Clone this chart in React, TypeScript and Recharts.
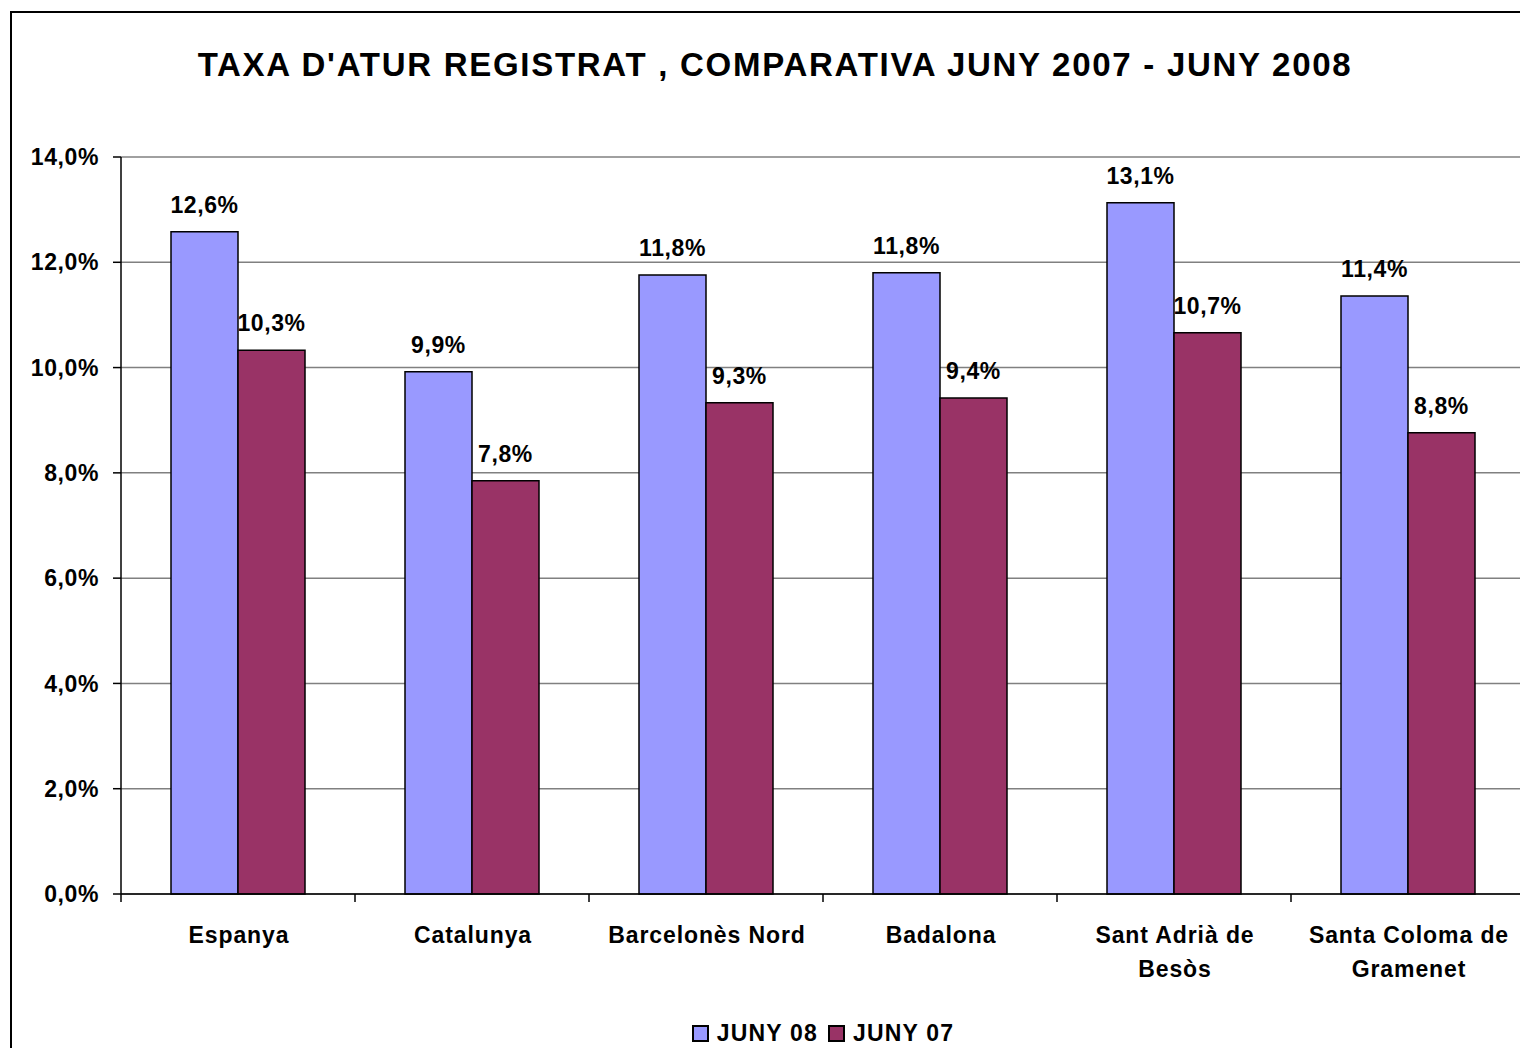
import React from "react";
import {
  BarChart,
  Bar,
  XAxis,
  YAxis,
  CartesianGrid,
  LabelList,
} from "recharts";

const TITLE = "TAXA D'ATUR REGISTRAT , COMPARATIVA JUNY 2007 - JUNY 2008";
const categories = [
  "Espanya",
  "Catalunya",
  "Barcelonès Nord",
  "Badalona",
  "Sant Adrià de Besòs",
  "Santa Coloma de Gramenet",
];
const juny08 = [12.58, 9.92, 11.76, 11.8, 13.13, 11.36];
const juny07 = [10.33, 7.85, 9.33, 9.42, 10.66, 8.76];
const seriesNames = ["JUNY 08", "JUNY 07"];
const seriesColors = ["#9999FF", "#993366"];
const yTicks = [0, 2, 4, 6, 8, 10, 12, 14];

const data = categories.map((c, i) => ({
  name: c,
  j08: juny08[i],
  j07: juny07[i],
}));

const FONT = "'Liberation Sans', Arial, Helvetica, sans-serif";

const fmtPct = (v: number) => `${Number(v).toFixed(1).replace(".", ",")}%`;

const splitLabel = (s: string): string[] => {
  if (s.length <= 16) return [s];
  const words = s.split(" ");
  const last = words.pop() as string;
  return [words.join(" "), last];
};

const CategoryTick = (props: any) => {
  const { x, y, payload } = props;
  const lines = splitLabel(String(payload.value));
  const half = Number(payload.offset) || 0;
  return (
    <g>
      <line
        x1={x - half}
        x2={x - half}
        y1={y}
        y2={y + 8}
        stroke="#000"
        strokeWidth={1.5}
      />
      <text
        x={x}
        y={y}
        textAnchor="middle"
        fontFamily={FONT}
        fontWeight="bold"
        fontSize={23}
        letterSpacing={0.9}
        fill="#000"
      >
        {lines.map((l, i) => (
          <tspan key={i} x={x + 1} y={y + 49 + i * 33.5}>
            {l}
          </tspan>
        ))}
      </text>
    </g>
  );
};

const labelStyle = {
  fill: "#000",
  fontSize: 23,
  fontWeight: "bold",
  fontFamily: FONT,
  letterSpacing: 0.6,
};

export default function App() {
  return (
    <div
      style={{
        position: "absolute",
        left: 0,
        top: 0,
        width: 1520,
        height: 1048,
        overflow: "hidden",
        background: "#fff",
        fontFamily: FONT,
      }}
    >
      <div
        style={{
          position: "absolute",
          left: 10,
          top: 11,
          width: 1600,
          height: 1200,
          border: "2px solid #000",
          boxSizing: "border-box",
        }}
      />
      <div
        style={{
          position: "absolute",
          left: 0,
          width: 1550,
          top: 45,
          textAlign: "center",
          fontWeight: "bold",
          fontSize: 33,
          letterSpacing: 1.72,
          lineHeight: "40px",
          whiteSpace: "nowrap",
        }}
      >
        {TITLE}
      </div>
      <div style={{ position: "absolute", left: 0, top: 0 }}>
        <BarChart
          width={1525}
          height={1048}
          data={data}
          margin={{ top: 157, right: 0, bottom: 94, left: 0 }}
          barCategoryGap={50}
          barGap={0}
        >
          <CartesianGrid
            vertical={false}
            stroke="#808080"
            strokeWidth={1.5}
          />
          <XAxis
            dataKey="name"
            type="category"
            tick={<CategoryTick />}
            tickLine={false}
            tickSize={0}
            tickMargin={0}
            axisLine={{ stroke: "#000", strokeWidth: 1.5 }}
            interval={0}
            height={60}
          />
          <YAxis
            width={121}
            domain={[0, 14]}
            ticks={yTicks}
            tickFormatter={fmtPct}
            tickSize={8}
            tickMargin={14}
            tickLine={{ stroke: "#000", strokeWidth: 1.5 }}
            axisLine={{ stroke: "#000", strokeWidth: 1.5 }}
            tick={labelStyle}
            interval={0}
          />
          <Bar
            dataKey="j08"
            name={seriesNames[0]}
            fill={seriesColors[0]}
            stroke="#000"
            strokeWidth={1.5}
            isAnimationActive={false}
          >
            <LabelList
              dataKey="j08"
              position="top"
              offset={19}
              formatter={fmtPct}
              style={labelStyle}
            />
          </Bar>
          <Bar
            dataKey="j07"
            name={seriesNames[1]}
            fill={seriesColors[1]}
            stroke="#000"
            strokeWidth={1.5}
            isAnimationActive={false}
          >
            <LabelList
              dataKey="j07"
              position="top"
              offset={19}
              formatter={fmtPct}
              style={labelStyle}
            />
          </Bar>
        </BarChart>
      </div>
      <div
        style={{
          position: "absolute",
          left: 121,
          width: 1404,
          top: 1019,
          display: "flex",
          justifyContent: "center",
          alignItems: "center",
          fontWeight: "bold",
          fontSize: 23,
          letterSpacing: 1.2,
          lineHeight: "28px",
        }}
      >
        {seriesNames.map((n, i) => (
          <div
            key={n}
            style={{
              display: "flex",
              alignItems: "center",
              marginRight: i === 0 ? 10 : 0,
            }}
          >
            <span
              style={{
                display: "inline-block",
                width: 13,
                height: 13,
                background: seriesColors[i],
                border: "2px solid #000",
                marginRight: 8,
              }}
            />
            <span>{n}</span>
          </div>
        ))}
      </div>
    </div>
  );
}
